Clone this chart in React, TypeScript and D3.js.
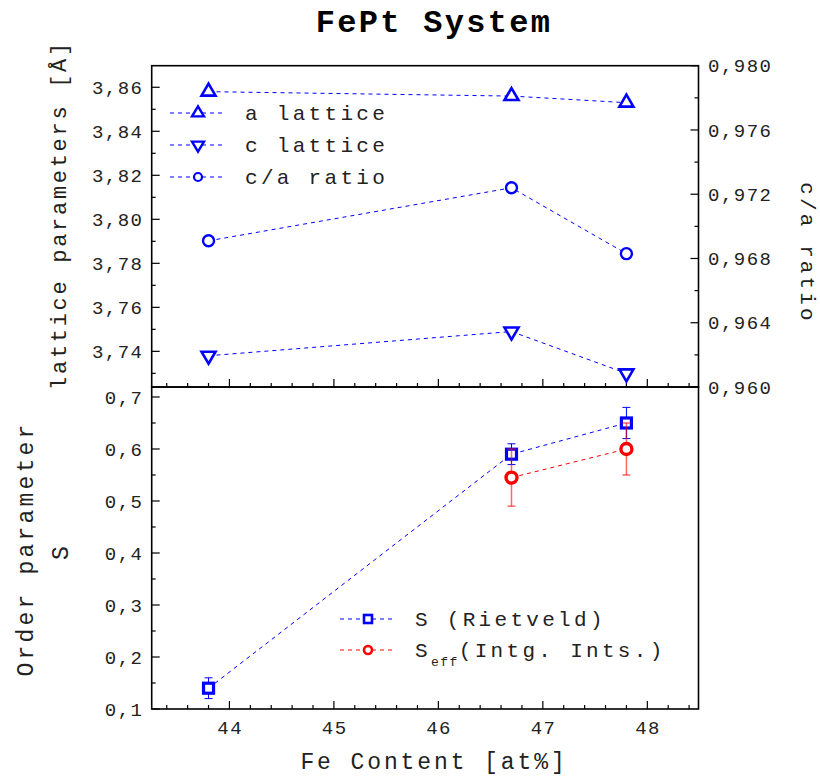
import React from "react";
import * as d3 from "d3";

const feContent = [43.8, 46.7, 47.8];
const aLattice = [3.858, 3.856, 3.853];
const cLattice = [3.738, 3.749, 3.730];
const caRatio = [0.9691, 0.9724, 0.9683];
const sRietveld = [0.14, 0.59, 0.65];
const sRietveldErr = [0.02, 0.02, 0.03];
const sEffX = [46.7, 47.8];
const sEff = [0.545, 0.6];
const sEffErr = [0.055, 0.05];

const xMajor = [44, 45, 46, 47, 48];
const latticeTicks = [3.74, 3.76, 3.78, 3.8, 3.82, 3.84, 3.86];
const ratioTicks = [0.96, 0.964, 0.968, 0.972, 0.976, 0.98];
const sTicks = [0.1, 0.2, 0.3, 0.4, 0.5, 0.6, 0.7];

const FONT = "'Liberation Mono', 'DejaVu Sans Mono', monospace";
const BLUE = "#0000ff";
const RED = "#ff0000";

const L = 151.7, R = 698.5, T1 = 65.7, B1 = 387, T2 = 387, B2 = 709;

const comma = (f: string) => (v: number) => d3.format(f)(v).replace(".", ",");

function upTri(w: number, h: number) {
  return `M0,${-h * 2 / 3}L${w / 2},${h / 3}L${-w / 2},${h / 3}Z`;
}
function downTri(w: number, h: number) {
  return `M0,${h * 2 / 3}L${w / 2},${-h / 3}L${-w / 2},${-h / 3}Z`;
}

export default function App() {
  const x = d3.scaleLinear().domain([43.256, 48.49]).range([L, R]);
  const yL = d3.scaleLinear().domain([3.7238, 3.8698]).range([B1, T1]);
  const yR = d3.scaleLinear().domain([0.96, 0.98]).range([B1, T1]);
  const yS = d3.scaleLinear().domain([0.1, 0.7192]).range([B2, T2]);

  const xMinor = d3.range(43.4, 48.5, 0.2).map((v) => +v.toFixed(2)).filter((v) => x(v) > L + 1 && x(v) < R - 1);
  const lMinor = d3.range(3.73, 3.87, 0.01).map((v) => +v.toFixed(3)).filter((v) => yL(v) > T1 + 1 && yL(v) < B1 - 1);
  const rMinor = d3.range(0.962, 0.98, 0.002).map((v) => +v.toFixed(4)).filter((v) => yR(v) > T1 + 1 && yR(v) < B1 - 1);
  const sMinor = d3.range(0.1, 0.72, 0.05).map((v) => +v.toFixed(3)).filter((v) => yS(v) > T2 + 1 && yS(v) < B2 - 1);

  const lineA = d3.line<number>().x((_, i) => x(feContent[i])).y((d) => yL(d));
  const lineR = d3.line<number>().x((_, i) => x(feContent[i])).y((d) => yR(d));
  const lineS = d3.line<number>().x((_, i) => x(feContent[i])).y((d) => yS(d));
  const lineE = d3.line<number>().x((_, i) => x(sEffX[i])).y((d) => yS(d));

  const dash = "4,4";
  const tickFont = { fontFamily: FONT, fontSize: 19, letterSpacing: 1.5, fill: "#222" } as any;
  const legFont = { fontFamily: FONT, fontSize: 21, letterSpacing: 3.3, fill: "#222" } as any;

  const fmtL = comma(".2f");
  const fmtR = comma(".3f");
  const fmtS = comma(".1f");

  return (
    <svg width={820} height={779} style={{ position: "absolute", left: 0, top: 0, background: "#fff" }}>
      <rect x={0} y={0} width={820} height={779} fill="#fff" />
      {/* Title */}
      <text x={434} y={32} textAnchor="middle" style={{ fontFamily: FONT, fontSize: 32, fontWeight: "bold", letterSpacing: 2.3 }}>FePt System</text>

      {/* x ticks both panels */}
      {[B1, B2].map((by, k) => (
        <g key={k}>
          {xMajor.map((v) => <line key={"M" + v} x1={x(v)} x2={x(v)} y1={by} y2={by - 8} stroke="#000" strokeWidth={1.2} />)}
          {xMinor.filter((v) => !xMajor.includes(v)).map((v) => <line key={"m" + v} x1={x(v)} x2={x(v)} y1={by} y2={by - 4} stroke="#000" strokeWidth={1.2} />)}
        </g>
      ))}
      {xMajor.map((v) => (
        <text key={"xl" + v} x={x(v) + 0.75} y={727.5} dy="0.35em" textAnchor="middle" style={tickFont}>{v}</text>
      ))}

      {/* left top ticks */}
      {latticeTicks.map((v) => (
        <g key={"lt" + v}>
          <line x1={L} x2={L + 8} y1={yL(v)} y2={yL(v)} stroke="#000" strokeWidth={1.2} />
          <text x={143.5} y={yL(v)} dy="0.35em" textAnchor="end" style={tickFont}>{fmtL(v)}</text>
        </g>
      ))}
      {lMinor.filter((v) => !latticeTicks.some((t) => Math.abs(t - v) < 1e-6)).map((v) => (
        <line key={"lm" + v} x1={L} x2={L + 4} y1={yL(v)} y2={yL(v)} stroke="#000" strokeWidth={1.2} />
      ))}

      {/* right top ticks */}
      {ratioTicks.map((v) => (
        <g key={"rt" + v}>
          <line x1={R} x2={R - 8} y1={yR(v)} y2={yR(v)} stroke="#000" strokeWidth={1.2} />
          <text x={708} y={yR(v)} dy="0.35em" textAnchor="start" style={tickFont}>{fmtR(v)}</text>
        </g>
      ))}
      {rMinor.filter((v) => !ratioTicks.some((t) => Math.abs(t - v) < 1e-6)).map((v) => (
        <line key={"rm" + v} x1={R} x2={R - 4} y1={yR(v)} y2={yR(v)} stroke="#000" strokeWidth={1.2} />
      ))}

      {/* bottom left ticks */}
      {sTicks.map((v) => (
        <g key={"st" + v}>
          <line x1={L} x2={L + 8} y1={yS(v)} y2={yS(v)} stroke="#000" strokeWidth={1.2} />
          <text x={143.5} y={yS(v)} dy="0.35em" textAnchor="end" style={tickFont}>{fmtS(v)}</text>
        </g>
      ))}
      {sMinor.filter((v) => !sTicks.some((t) => Math.abs(t - v) < 1e-6)).map((v) => (
        <line key={"sm" + v} x1={L} x2={L + 4} y1={yS(v)} y2={yS(v)} stroke="#000" strokeWidth={1.2} />
      ))}

      {/* frames */}
      <rect x={L} y={T1} width={R - L} height={B1 - T1} fill="none" stroke="#000" strokeWidth={1.6} />
      <rect x={L} y={T2} width={R - L} height={B2 - T2} fill="none" stroke="#000" strokeWidth={1.6} />

      {/* top panel data */}
      <path d={lineA(aLattice) || ""} fill="none" stroke={BLUE} strokeWidth={1} strokeDasharray={dash} />
      <path d={lineA(cLattice) || ""} fill="none" stroke={BLUE} strokeWidth={1} strokeDasharray={dash} />
      <path d={lineR(caRatio) || ""} fill="none" stroke={BLUE} strokeWidth={1} strokeDasharray={dash} />
      {feContent.map((f, i) => (
        <g key={"tp" + i}>
          <path d={upTri(14, 12)} transform={`translate(${x(f)},${yL(aLattice[i])})`} fill="#fff" stroke={BLUE} strokeWidth={2.6} strokeLinejoin="miter" />
          <path d={downTri(14, 12)} transform={`translate(${x(f)},${yL(cLattice[i])})`} fill="#fff" stroke={BLUE} strokeWidth={2.6} />
          <circle cx={x(f)} cy={yR(caRatio[i])} r={5.5} fill="#fff" stroke={BLUE} strokeWidth={2.4} />
        </g>
      ))}

      {/* top legend */}
      {[0, 1, 2].map((k) => {
        const yy = 113 + k * 32;
        return (
          <g key={"tl" + k}>
            <line x1={170} x2={224} y1={yy} y2={yy} stroke={BLUE} strokeWidth={1} strokeDasharray={dash} />
            {k === 0 && <path d={upTri(12, 10)} transform={`translate(198,${yy})`} fill="#fff" stroke={BLUE} strokeWidth={2.4} />}
            {k === 1 && <path d={downTri(12, 10)} transform={`translate(198,${yy})`} fill="#fff" stroke={BLUE} strokeWidth={2.4} />}
            {k === 2 && <circle cx={198} cy={yy} r={4} fill="#fff" stroke={BLUE} strokeWidth={2.2} />}
            <text x={245} y={yy} dy="0.35em" style={legFont}>{["a lattice", "c lattice", "c/a ratio"][k]}</text>
          </g>
        );
      })}

      {/* bottom panel data: S Rietveld */}
      <path d={lineS(sRietveld) || ""} fill="none" stroke={BLUE} strokeWidth={1} strokeDasharray={dash} />
      {feContent.map((f, i) => {
        const cx = x(f);
        const y0 = yS(sRietveld[i] - sRietveldErr[i]);
        const y1 = yS(sRietveld[i] + sRietveldErr[i]);
        return (
          <g key={"eb" + i}>
            <line x1={cx} x2={cx} y1={y0} y2={y1} stroke={BLUE} strokeWidth={1} />
            <line x1={cx - 4} x2={cx + 4} y1={y0} y2={y0} stroke={BLUE} strokeWidth={1} />
            <line x1={cx - 4} x2={cx + 4} y1={y1} y2={y1} stroke={BLUE} strokeWidth={1} />
            <rect x={cx - 5} y={yS(sRietveld[i]) - 5} width={10} height={10} fill="#fff" stroke={BLUE} strokeWidth={3.2} />
          </g>
        );
      })}

      {/* S eff */}
      <path d={lineE(sEff) || ""} fill="none" stroke={RED} strokeWidth={1} strokeDasharray={dash} />
      {sEffX.map((f, i) => {
        const cx = x(f);
        const y0 = yS(sEff[i] - sEffErr[i]);
        const y1 = yS(sEff[i] + sEffErr[i]);
        return (
          <g key={"ee" + i}>
            <line x1={cx} x2={cx} y1={y0} y2={y1} stroke={RED} strokeOpacity={0.6} strokeWidth={1.5} />
            <line x1={cx - 4} x2={cx + 4} y1={y0} y2={y0} stroke={RED} strokeOpacity={0.6} strokeWidth={1.5} />
            <line x1={cx - 4} x2={cx + 4} y1={y1} y2={y1} stroke={RED} strokeOpacity={0.6} strokeWidth={1.5} />
            <circle cx={cx} cy={yS(sEff[i])} r={5.5} fill="#fff" stroke={RED} strokeWidth={3.4} />
          </g>
        );
      })}

      {/* bottom legend */}
      <line x1={340} x2={393} y1={619} y2={619} stroke={BLUE} strokeWidth={1} strokeDasharray={dash} />
      <rect x={364} y={615} width={8} height={8} fill="#fff" stroke={BLUE} strokeWidth={2.6} />
      <text x={415} y={619} dy="0.35em" style={legFont}>S (Rietveld)</text>
      <line x1={340} x2={393} y1={650} y2={650} stroke={RED} strokeWidth={1} strokeDasharray={dash} />
      <circle cx={368} cy={650} r={4} fill="#fff" stroke={RED} strokeWidth={2.6} />
      <text x={415} y={650} dy="0.35em" style={legFont}>
        S<tspan dy="9" style={{ fontSize: 13, letterSpacing: 1.5 }}>eff</tspan><tspan dy="-9">(Intg. Ints.)</tspan>
      </text>

      {/* axis titles */}
      <text x={434} y={769} textAnchor="middle" style={{ fontFamily: FONT, fontSize: 23, letterSpacing: 2.9, fill: "#222" }}>Fe Content [at%]</text>
      <text transform="translate(66,215) rotate(-90)" textAnchor="middle" style={{ fontFamily: FONT, fontSize: 22, letterSpacing: 2.7, fill: "#222" }}>lattice parameters [Å]</text>
      <text transform="translate(33,549) rotate(-90)" textAnchor="middle" style={{ fontFamily: FONT, fontSize: 23, letterSpacing: 3.2, fill: "#222" }}>Order parameter</text>
      <text transform="translate(68,553) rotate(-90)" textAnchor="middle" style={{ fontFamily: FONT, fontSize: 23, fill: "#222" }}>S</text>
      <text transform="translate(801,253) rotate(90)" textAnchor="middle" style={{ fontFamily: FONT, fontSize: 21, letterSpacing: 3.1, fill: "#222" }}>c/a ratio</text>
    </svg>
  );
}
